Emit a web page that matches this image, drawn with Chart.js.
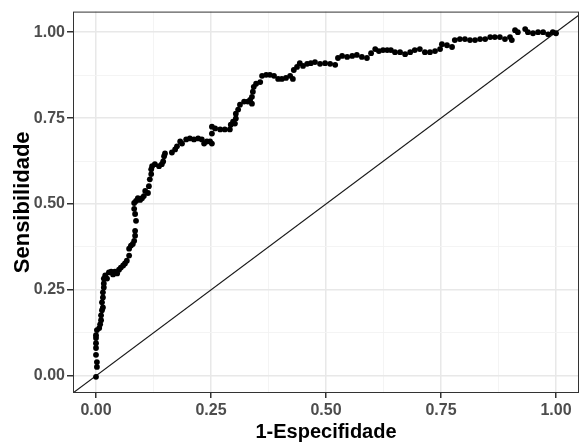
<!DOCTYPE html>
<html>
<head>
<meta charset="utf-8">
<script src="https://cdn.jsdelivr.net/npm/chart.js@4/dist/chart.umd.min.js"></script>
<style>
    html, body { margin: 0; padding: 0; background: #fff; }
    canvas { display: block; }
</style>
</head>
<body>
<canvas id="rocChart" width="583" height="447"></canvas>
<script>
// 1-Especificidade (eixo x)
const fpr = [
    0.000, 0.002, 0.002, 0.000, 0.000, 0.000, 0.000, 0.000, 0.002, 0.007,
    0.009, 0.011, 0.011, 0.013, 0.015, 0.013, 0.015, 0.015, 0.017, 0.017,
    0.017, 0.020, 0.024, 0.028, 0.033, 0.037, 0.041, 0.046, 0.050, 0.054,
    0.059, 0.063, 0.067, 0.072, 0.072, 0.076, 0.080, 0.083, 0.085, 0.085,
    0.087, 0.085, 0.083, 0.083, 0.087, 0.091, 0.096, 0.100, 0.104, 0.107,
    0.113, 0.115, 0.117, 0.120, 0.120, 0.122, 0.128, 0.137, 0.143, 0.146,
    0.148, 0.150, 0.165, 0.172, 0.176, 0.183, 0.187, 0.196, 0.204, 0.213,
    0.222, 0.230, 0.235, 0.241, 0.248, 0.252, 0.252, 0.252, 0.259, 0.270,
    0.280, 0.291, 0.293, 0.298, 0.302, 0.304, 0.304, 0.309, 0.313, 0.322,
    0.330, 0.335, 0.339, 0.339, 0.341, 0.343, 0.348, 0.357, 0.361, 0.370,
    0.378, 0.387, 0.396, 0.404, 0.413, 0.422, 0.428, 0.430, 0.437, 0.443,
    0.450, 0.459, 0.467, 0.476, 0.487, 0.498, 0.509, 0.520, 0.526, 0.535,
    0.546, 0.557, 0.567, 0.578, 0.589, 0.598, 0.607, 0.615, 0.624, 0.633,
    0.641, 0.650, 0.661, 0.672, 0.683, 0.693, 0.704, 0.715, 0.726, 0.737,
    0.748, 0.752, 0.763, 0.774, 0.780, 0.791, 0.802, 0.813, 0.824, 0.835,
    0.846, 0.857, 0.867, 0.878, 0.889, 0.900, 0.904, 0.911, 0.917, 0.933,
    0.939, 0.950, 0.961, 0.972, 0.983, 0.993, 1.000
];
// Sensibilidade (eixo y)
const tpr = [
    -0.003, 0.026, 0.040, 0.061, 0.081, 0.095, 0.110, 0.118, 0.133, 0.139,
    0.150, 0.162, 0.176, 0.191, 0.199, 0.214, 0.228, 0.243, 0.257, 0.269,
    0.283, 0.292, 0.283, 0.301, 0.303, 0.295, 0.303, 0.298, 0.309, 0.315,
    0.321, 0.327, 0.335, 0.350, 0.370, 0.379, 0.384, 0.393, 0.408, 0.422,
    0.451, 0.471, 0.486, 0.503, 0.509, 0.517, 0.512, 0.517, 0.523, 0.538,
    0.532, 0.552, 0.572, 0.587, 0.601, 0.610, 0.616, 0.610, 0.616, 0.624,
    0.639, 0.647, 0.650, 0.659, 0.668, 0.682, 0.676, 0.688, 0.691, 0.688,
    0.691, 0.688, 0.676, 0.682, 0.682, 0.676, 0.705, 0.725, 0.720, 0.717,
    0.717, 0.717, 0.731, 0.740, 0.734, 0.749, 0.763, 0.775, 0.789, 0.798,
    0.798, 0.803, 0.792, 0.812, 0.827, 0.841, 0.850, 0.855, 0.873, 0.876,
    0.876, 0.873, 0.864, 0.864, 0.867, 0.873, 0.864, 0.890, 0.899, 0.910,
    0.902, 0.908, 0.910, 0.913, 0.908, 0.910, 0.908, 0.905, 0.925, 0.931,
    0.928, 0.931, 0.934, 0.928, 0.925, 0.939, 0.951, 0.945, 0.948, 0.948,
    0.948, 0.942, 0.942, 0.936, 0.942, 0.948, 0.951, 0.942, 0.942, 0.945,
    0.951, 0.965, 0.962, 0.957, 0.977, 0.980, 0.980, 0.977, 0.977, 0.980,
    0.980, 0.986, 0.986, 0.986, 0.980, 0.986, 0.977, 1.006, 1.000, 1.009,
    1.000, 0.997, 1.000, 1.000, 0.994, 1.000, 0.997
];

const majorTicks = [0, 0.25, 0.5, 0.75, 1];
const minorTicks = [0.125, 0.375, 0.625, 0.875];
const xLimits = [-0.05, 1.05];
const yLimits = [-0.05, 1.06];

const xTitle = '1-Especifidade';
const yTitle = 'Sensibilidade';

document.addEventListener('DOMContentLoaded', () => {
    const ctx = document.getElementById('rocChart').getContext('2d');

    const isMajor = v => majorTicks.some(t => Math.abs(t - v) < 1e-9);
    const allTicks = majorTicks.concat(minorTicks).sort((a, b) => a - b);

    // moldura do painel (theme_bw)
    const panelBorder = {
        id: 'panelBorder',
        afterDatasetsDraw(chart) {
            const { ctx, chartArea: a } = chart;
            ctx.save();
            ctx.strokeStyle = '#333333';
            ctx.lineWidth = 1;
            ctx.strokeRect(a.left + 0.5, a.top + 0.5, a.right - a.left - 1, a.bottom - a.top - 1);
            ctx.restore();
        }
    };

    const axisOptions = (title, limits, isX) => ({
        type: 'linear',
        min: limits[0],
        max: limits[1],
        afterBuildTicks: scale => {
            scale.ticks = allTicks.map(v => ({ value: v }));
        },
        afterFit: scale => {
            if (isX) scale.height = 54;
            else scale.width = 73;
        },
        border: { display: false },
        grid: {
            color: c => isMajor(c.tick.value) ? '#e8e8e8' : '#f3f3f3',
            lineWidth: c => isMajor(c.tick.value) ? 1.5 : 0.9,
            tickColor: c => isMajor(c.tick.value) ? '#333333' : 'rgba(0,0,0,0)',
            tickLength: isX ? 5 : 6,
            drawTicks: true
        },
        ticks: {
            autoSkip: false,
            maxRotation: 0,
            padding: isX ? 3 : 2,
            color: '#4d4d4d',
            font: { family: "'Liberation Sans', Arial, sans-serif", size: 16, weight: 'bold' },
            callback: v => isMajor(v) ? v.toFixed(2) : ''
        },
        title: {
            display: true,
            text: title,
            color: '#000000',
            padding: isX ? { top: 0, bottom: 3 } : { top: 10, bottom: 0 },
            font: { family: "'Liberation Sans', Arial, sans-serif", size: isX ? 20 : 22, weight: 'bold' }
        }
    });

    new Chart(ctx, {
        type: 'scatter',
        data: {
            datasets: [
                {
                    label: 'ROC',
                    data: fpr.map((x, i) => ({ x: x, y: tpr[i] })),
                    backgroundColor: '#000000',
                    borderWidth: 0,
                    pointRadius: 2.9,
                    pointHoverRadius: 2.9,
                    order: 1
                },
                {
                    // linha de referência y = x
                    label: 'diagonal',
                    data: xLimits.map(v => ({ x: v, y: v })),
                    showLine: true,
                    borderColor: '#1a1a1a',
                    borderWidth: 1.1,
                    pointRadius: 0,
                    fill: false,
                    order: 2
                }
            ]
        },
        options: {
            responsive: false,
            animation: false,
            layout: { padding: { top: 10, right: 4, left: 0, bottom: 0 } },
            plugins: {
                legend: { display: false },
                tooltip: { enabled: false }
            },
            scales: {
                x: axisOptions(xTitle, xLimits, true),
                y: axisOptions(yTitle, yLimits, false)
            }
        },
        plugins: [panelBorder]
    });
});
</script>
</body>
</html>
